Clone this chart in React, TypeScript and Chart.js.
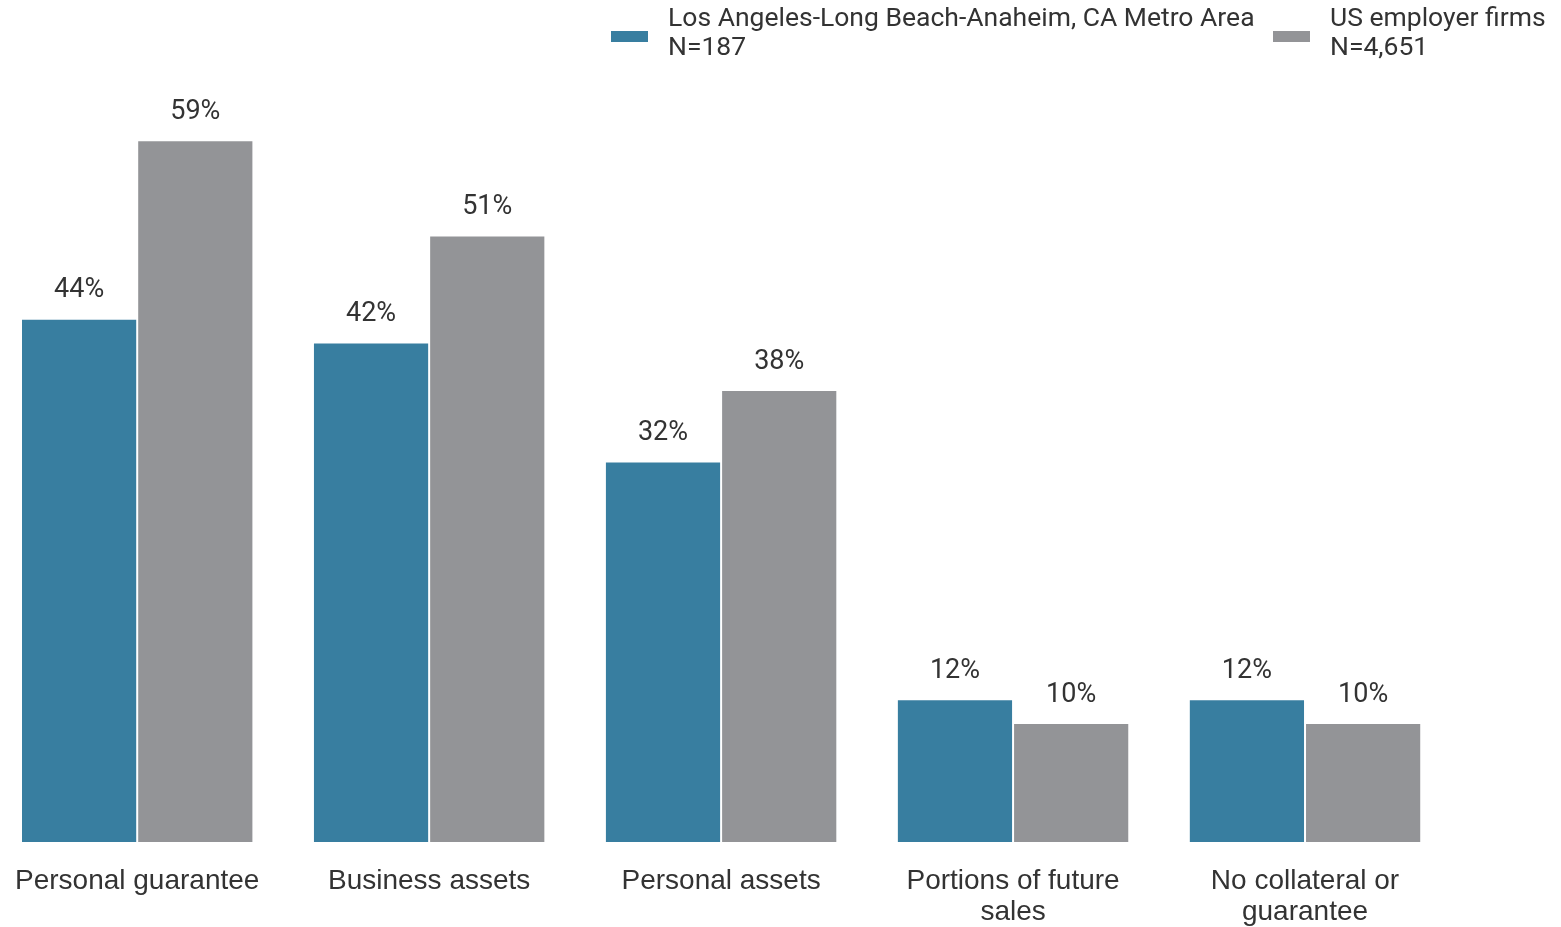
import React, { useEffect, useRef } from "react";
import { Chart, registerables } from "chart.js";

Chart.register(...registerables);

const categories: (string | string[])[] = [
  "Personal guarantee",
  "Business assets",
  "Personal assets",
  ["Portions of future", "sales"],
  ["No collateral or", "guarantee"],
];
const laValues = [44, 42, 32, 12, 12];
const usValues = [59, 51, 38, 10, 10];
const laLabel = ["Los Angeles-Long Beach-Anaheim, CA Metro Area", "N=187"];
const usLabel = ["US employer firms", "N=4,651"];

const BLUE = "#387ea0";
const GRAY = "#939497";
const TEXT = "#333333";
const FONT = "Roboto, sans-serif";
const AXIS_FONT = "'Liberation Sans', Arial, sans-serif";

const valueLabels = {
  id: "valueLabels",
  afterDatasetsDraw(chart: any) {
    const ctx = chart.ctx;
    ctx.save();
    ctx.font = `27px ${FONT}`;
    ctx.fillStyle = TEXT;
    ctx.textAlign = "center";
    ctx.textBaseline = "middle";
    chart.data.datasets.forEach((ds: any, di: number) => {
      const meta = chart.getDatasetMeta(di);
      meta.data.forEach((bar: any, i: number) => {
        ctx.fillText(`${ds.data[i]}%`, bar.x, bar.y - 28);
      });
    });
    ctx.restore();
  },
};

const customLegend = {
  id: "customLegend",
  afterDraw(chart: any) {
    const ctx = chart.ctx;
    ctx.save();
    ctx.font = `26.5px ${FONT}`;
    ctx.textAlign = "left";
    ctx.textBaseline = "middle";
    const items = [
      { x: 620, color: BLUE, lines: chart.data.datasets[0].legendLines },
      { x: 1282, color: GRAY, lines: chart.data.datasets[1].legendLines },
    ];
    items.forEach((it) => {
      ctx.fillStyle = it.color;
      ctx.fillRect(it.x, 31, 37, 11);
      ctx.fillStyle = TEXT;
      it.lines.forEach((l: string, k: number) => {
        ctx.fillText(l, it.x + 57, 19 + k * 29.5);
      });
    });
    ctx.restore();
  },
};

export default function App() {
  const ref = useRef<HTMLCanvasElement>(null);
  useEffect(() => {
    if (!ref.current) return;
    const chart = new Chart(ref.current, {
      type: "bar",
      data: {
        labels: categories,
        datasets: [
          {
            label: laLabel.join(" "),
            legendLines: laLabel,
            data: laValues,
            backgroundColor: BLUE,
            borderColor: "#ffffff",
            borderWidth: 1,
            barPercentage: 1,
            categoryPercentage: 0.796,
          } as any,
          {
            label: usLabel.join(" "),
            legendLines: usLabel,
            data: usValues,
            backgroundColor: GRAY,
            borderColor: "#ffffff",
            borderWidth: 1,
            barPercentage: 1,
            categoryPercentage: 0.796,
          } as any,
        ],
      },
      options: {
        responsive: false,
        animation: false,
        layout: { padding: { top: 57, right: 110, left: 0, bottom: 0 } },
        plugins: {
          legend: { display: false },
          tooltip: { enabled: false },
        },
        scales: {
          x: {
            grid: { display: false, drawTicks: false },
            border: { display: false },
            afterFit: (scale: any) => {
              scale.height = 85;
            },
            ticks: {
              color: TEXT,
              font: { family: AXIS_FONT, size: 28, lineHeight: 1.1 },
              padding: 24,
              maxRotation: 0,
              autoSkip: false,
            },
          },
          y: {
            display: false,
            min: 0,
            max: 66,
          },
        },
      },
      plugins: [valueLabels, customLegend],
    });
    return () => chart.destroy();
  }, []);
  return (
    <div style={{ position: "fixed", left: -9, top: 0, width: 1570, height: 927 }}>
      <canvas ref={ref} width={1570} height={927} style={{ display: "block" }} />
    </div>
  );
}
